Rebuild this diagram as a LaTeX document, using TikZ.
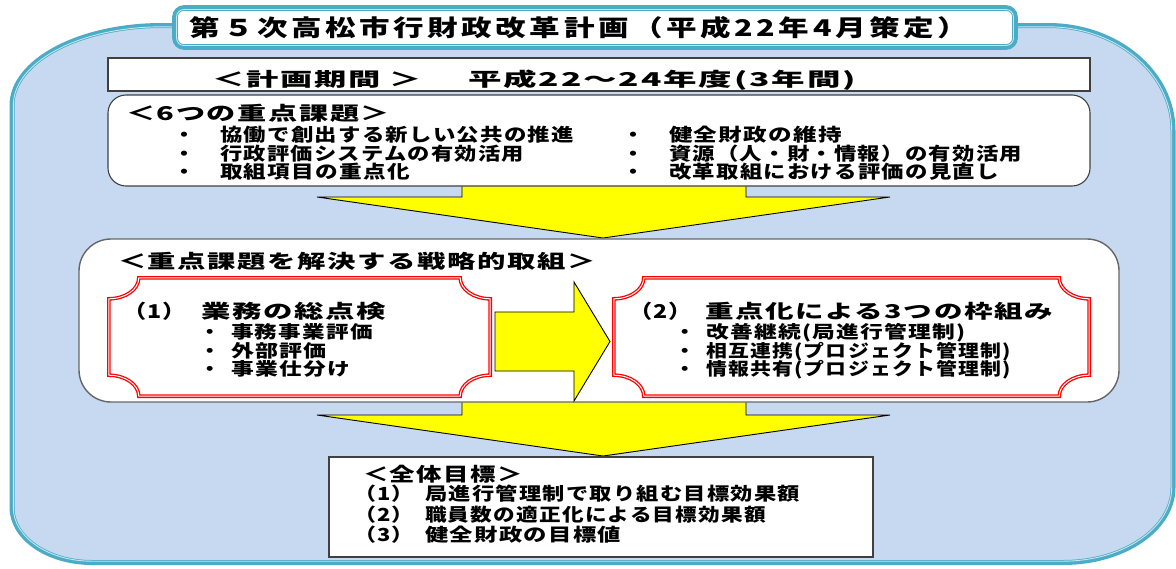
\documentclass[tikz,border=0pt]{standalone}
\usepackage{fontspec}
\usepackage{graphicx}
\newfontfamily\jpT[FakeStretch=1.2,LetterSpace=14]{Noto Sans CJK JP}
\newfontfamily\jpN[FakeStretch=1.22,LetterSpace=7]{Noto Sans CJK JP}
\newlength\pxu \setlength\pxu{0.5pt}
\newcommand\fitw[2]{\resizebox{#1\pxu}{\height}{#2}}
\newcommand\ftTitle{\jpT\bfseries\fontsize{11.5pt}{13pt}\selectfont}
\newcommand\ftHead{\jpN\bfseries\fontsize{9.5pt}{11pt}\selectfont}
\newcommand\ftHeadB{\jpN\bfseries\fontsize{9.5pt}{11pt}\selectfont}
\newcommand\ftItem{\jpN\bfseries\fontsize{9pt}{10pt}\selectfont}
\newcommand\ftSmall{\jpN\bfseries\fontsize{8.75pt}{9pt}\selectfont}
\definecolor{outerfill}{RGB}{198,217,241}
\definecolor{tealc}{RGB}{75,172,198}
\definecolor{teall}{RGB}{196,230,239}
\definecolor{boxgray}{RGB}{64,64,64}
\definecolor{yel}{RGB}{255,255,0}
\tikzset{
  outerp/.style={insert path={({12+#1},105.5) arc[start angle=180,end angle=270,x radius={150-#1},y radius={80-#1}] -- (1048,{25.5+#1}) arc[start angle=270,end angle=360,x radius={125-#1},y radius={105-#1}] -- ({1173-#1},487.5) arc[start angle=0,end angle=90,x radius={110-#1},y radius={75-#1}] -- (92,{562.5-#1}) arc[start angle=90,end angle=180,x radius={80-#1},y radius={55-#1}] -- cycle}},
  plaque/.style n args={6}{insert path={({#1+#5},#2) -- ({#3-#5},#2) arc[start angle=180,end angle=90,x radius=#5,y radius=#6] -- (#3,{#4-#6}) arc[start angle=270,end angle=180,x radius=#5,y radius=#6] -- ({#1+#5},#4) arc[start angle=0,end angle=-90,x radius=#5,y radius=#6] -- (#1,{#2+#6}) arc[start angle=90,end angle=0,x radius=#5,y radius=#6] -- cycle}},
  redframe/.style={draw=red, line width=0.65pt, double=white, double distance=0.5pt, fill=white},
  whitebox/.style={draw=boxgray, line width=0.55pt, fill=white},
  yarrow/.style={fill=yel, draw=black, line width=0.45pt, line join=miter},
  lbl/.style={inner sep=0pt, outer sep=0pt, anchor=base west},
  blt/.style={inner sep=0pt, outer sep=0pt, anchor=base},
}
\begin{document}
\begin{tikzpicture}[x=0.5pt,y=-0.5pt]
\useasboundingbox (0,0) rectangle (1176,568);
\fill[white] (0,0) rectangle (1176,568);
% outer frame
\fill[outerfill, outerp=0];
\draw[tealc, line width=2.5pt, outerp=0];
\draw[teall, line width=0.45pt, outerp=1.3];
% title box
\draw[tealc, line width=2.8pt, fill=white, rounded corners=4.5pt] (175,8) rectangle (1015,47);
\draw[teall, line width=0.45pt, rounded corners=3.8pt] (176.5,9.5) rectangle (1013.5,45.5);
% arrow 1
\draw[yarrow] (462,175) -- (462,197) -- (317,197) -- (603,238) -- (890,197) -- (746,197) -- (746,175) -- cycle;
% period box and issues box
\draw[whitebox] (108,58) rectangle (1090,91);
\draw[whitebox, rounded corners=9pt] (108,95) rectangle (1090,186);
% arrow 2
\draw[yarrow] (462,390) -- (462,415) -- (317,415) -- (603,456) -- (890,415) -- (746,415) -- (746,390) -- cycle;
% strategy box
\draw[draw=boxgray!80, line width=0.7pt, fill=white, rounded corners=16pt] (79,239) rectangle (1119,402);
% red frames
\draw[redframe, plaque={108.8}{277.8}{490.2}{396.2}{30}{21}];
\draw[redframe, plaque={613.8}{277.8}{1089.2}{396.2}{30}{21}];
% right arrow
\draw[yarrow] (495,312) -- (574,312) -- (574,282) -- (610,341.5) -- (574,401) -- (574,371) -- (495,371) -- cycle;
% goal box
\draw[whitebox] (329,457) rectangle (873,557);

% texts
\node[lbl] (title) at (189,36.2) {\ftTitle\fitw{779}{第５次高松市行財政改革計画（平成22年4月策定）}};
\node[lbl] (per1) at (212,86.5) {\ftHead\fitw{210}{＜計画期間 ＞}};
\node[lbl] (per2) at (468,86.5) {\ftHead\fitw{388}{平成22～24年度(3年間)}};
\node[lbl] (h6) at (126,120) {\ftHeadB\fitw{264}{＜6つの重点課題＞}};
\node[blt] (b1) at (184,141.5) {\ftItem ・};
\node[blt] (b2) at (184,160) {\ftItem ・};
\node[blt] (b3) at (184,178.5) {\ftItem ・};
\node[blt] (b4) at (633,141.5) {\ftItem ・};
\node[blt] (b5) at (633,160) {\ftItem ・};
\node[blt] (b6) at (633,178.5) {\ftItem ・};
\node[lbl] (i1) at (220,141.5) {\ftItem\fitw{354}{協働で創出する新しい公共の推進}};
\node[lbl] (i2) at (220,160) {\ftItem\fitw{304}{行政評価システムの有効活用}};
\node[lbl] (i3) at (220,178.5) {\ftItem\fitw{190}{取組項目の重点化}};
\node[lbl] (i4) at (669,141.5) {\ftItem\fitw{173}{健全財政の維持}};
\node[lbl] (i5) at (669,160) {\ftItem\fitw{353}{資源（人・財・情報）の有効活用}};
\node[lbl] (i6) at (669,178.5) {\ftItem\fitw{330}{改革取組における評価の見直し}};
\node[lbl] (sh) at (118,268) {\ftHeadB\fitw{478}{＜重点課題を解決する戦略的取組＞}};
\node[lbl] (r1l) at (123,318) {\ftHeadB （1）};
\node[lbl] (r1t) at (201,318) {\ftHeadB\fitw{185}{業務の総点検}};
\node[blt] (r1b1) at (210,338.5) {\ftSmall ・};
\node[blt] (r1b2) at (210,357) {\ftSmall ・};
\node[blt] (r1b3) at (210,375.5) {\ftSmall ・};
\node[lbl] (r1i1) at (231,338.5) {\ftSmall\fitw{142}{事務事業評価}};
\node[lbl] (r1i2) at (231,357) {\ftSmall\fitw{96}{外部評価}};
\node[lbl] (r1i3) at (231,375.5) {\ftSmall\fitw{119}{事業仕分け}};
\node[lbl] (r2l) at (629,318) {\ftHeadB （2）};
\node[lbl] (r2t) at (705,318) {\ftHeadB\fitw{348}{重点化による3つの枠組み}};
\node[blt] (r2b1) at (685,338.5) {\ftSmall ・};
\node[blt] (r2b2) at (685,357) {\ftSmall ・};
\node[blt] (r2b3) at (685,375.5) {\ftSmall ・};
\node[lbl] (r2i1) at (706,338.5) {\ftSmall\fitw{260}{改善継続(局進行管理制)}};
\node[lbl] (r2i2) at (706,357) {\ftSmall\fitw{305}{相互連携(プロジェクト管理制)}};
\node[lbl] (r2i3) at (706,375.5) {\ftSmall\fitw{305}{情報共有(プロジェクト管理制)}};
\node[lbl] (gh) at (363,481.5) {\ftHead\fitw{160}{＜全体目標＞}};
\node[lbl] (g1l) at (354,500.5) {\ftItem （1）};
\node[lbl] (g2l) at (354,521) {\ftItem （2）};
\node[lbl] (g3l) at (354,541.5) {\ftItem （3）};
\node[lbl] (g1) at (425,500.5) {\ftItem\fitw{375}{局進行管理制で取り組む目標効果額}};
\node[lbl] (g2) at (425,521) {\ftItem\fitw{341}{職員数の適正化による目標効果額}};
\node[lbl] (g3) at (425,541.5) {\ftItem\fitw{196}{健全財政の目標値}};
\end{tikzpicture}
\end{document}
